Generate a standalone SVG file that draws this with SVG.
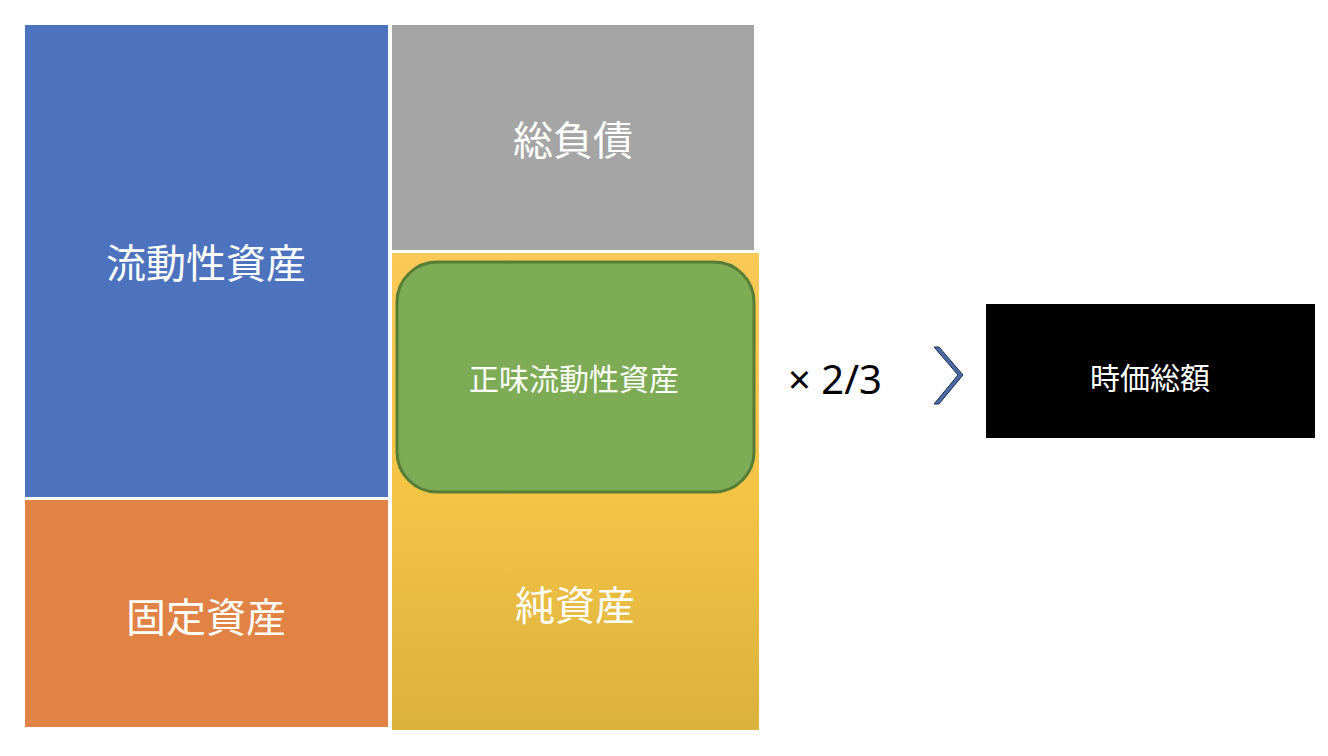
<svg xmlns="http://www.w3.org/2000/svg" width="1328" height="756" viewBox="0 0 1328 756">
<style>
text{font-family:"Noto Sans CJK JP","Noto Sans",sans-serif;fill:#fff;text-anchor:middle;dominant-baseline:central}
.big{font-size:40px}
.mid{font-size:30px}
</style>
<defs>
<linearGradient id="yg" x1="0" y1="0" x2="0" y2="1">
<stop offset="0" stop-color="#fbc957"/><stop offset="0.5" stop-color="#f4c445"/><stop offset="1" stop-color="#dbb23e"/>
</linearGradient>
</defs>
<rect width="1328" height="756" fill="#fff"/>
<g id="ryudo"><rect x="25" y="25" width="363" height="472" fill="#4e73be"/><text class="big" x="206" y="261">流動性資産</text></g>
<g id="kotei"><rect x="25" y="500" width="363" height="227" fill="#e08344"/><text class="big" x="206" y="615">固定資産</text></g>
<g id="fusai"><rect x="392" y="25" width="362" height="225" fill="#a5a5a5"/><text class="big" x="573" y="138">総負債</text></g>
<g id="junshisan"><rect x="392" y="253" width="367" height="477" fill="url(#yg)"/><text class="big" x="575" y="603">純資産</text></g>
<g id="shomi"><rect x="397" y="262" width="357" height="230" rx="40" fill="#7eab55" stroke="#567d35" stroke-width="3"/><text class="mid" x="574" y="377">正味流動性資産</text></g>
<g id="kakeru"><text x="835" y="378" style="fill:#000;font-family:'Noto Sans',sans-serif;font-size:40px">× 2/3</text></g>
<g id="connectors"><polygon points="934,347 939,347 963,375 939,404 934,404 958,375" fill="#4a6aa5" stroke="#1f3050" stroke-width="1"/></g>
<g id="jika"><rect x="986" y="304" width="329" height="134" fill="#000"/><text class="mid" x="1150" y="376">時価総額</text></g>
</svg>
